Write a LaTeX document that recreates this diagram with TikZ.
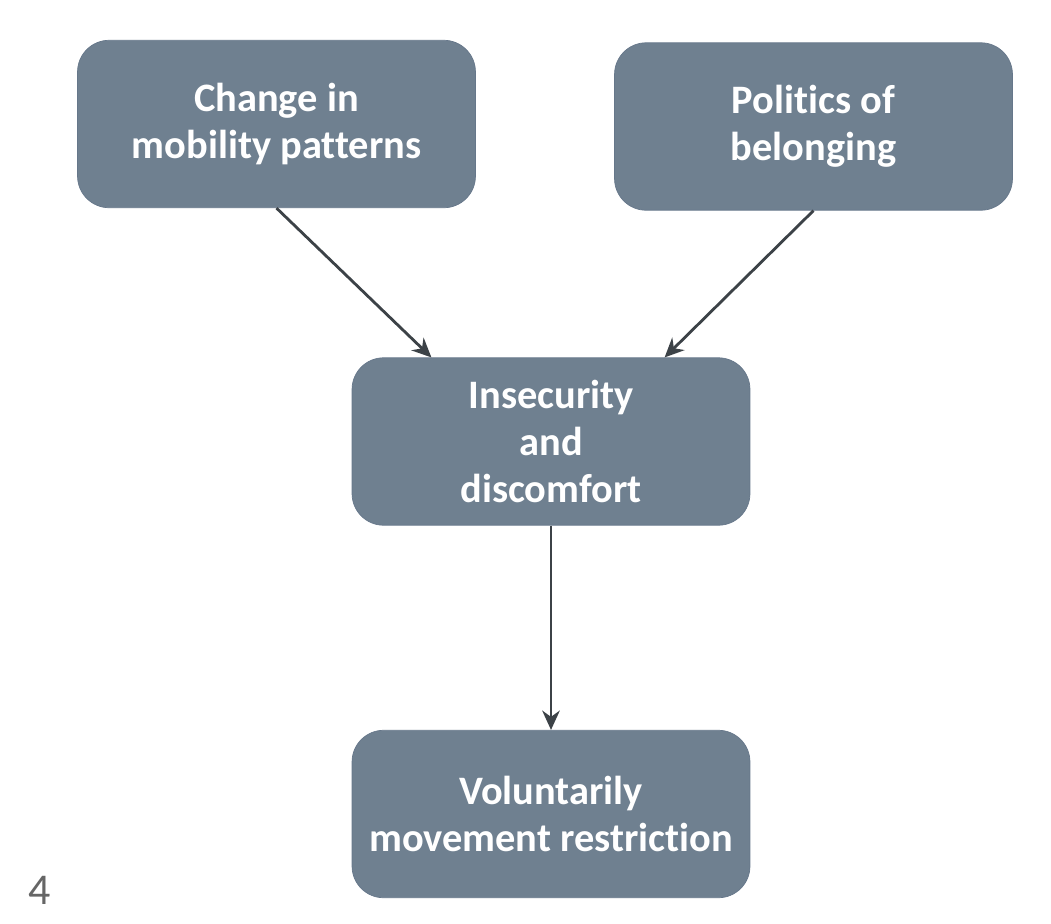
\documentclass[tikz,border=0pt]{standalone}
\usepackage{fontspec}
\setmainfont{Carlito}[Ligatures=NoCommon]
\usetikzlibrary{arrows.meta,calc}
\definecolor{slate}{HTML}{6F8090}
\definecolor{slateedge}{HTML}{66778A}
\definecolor{linkgray}{HTML}{3C4247}
\begin{document}
\begin{tikzpicture}[x=0.02cm, y=-0.02cm,
  box/.style={draw=slateedge, fill=slate, rounded corners=18pt, minimum width=7.96cm,
    minimum height=3.35cm, align=center, text=white, font=\fontsize{23}{27}\selectfont\bfseries},
  link/.style={draw=linkgray, line width=1.6pt, -{Stealth[length=11pt,width=10pt]}}]
  \useasboundingbox (0,0) rectangle (1051,923);
  \node[box] (change) at (276.5,124) {Change in\\mobility patterns};
  \node[box] (politics) at (813.5,126.5) {Politics of\\belonging};
  \node[box] (insecure) at (551,441.5) {Insecurity\\and\\discomfort};
  \node[box] (restrict) at (551,814) {Voluntarily\\movement restriction};
  \node[text=black!60, font=\fontsize{25}{30}\selectfont] (page) at (40,890) {4};
  \draw[link] (change.south) -- ($(insecure.north west)!0.2!(insecure.north east)$);
  \draw[link] (politics.south) -- ($(insecure.north west)!0.785!(insecure.north east)$);
  \draw[link] (insecure.south) -- (restrict.north);
\end{tikzpicture}
\end{document}
